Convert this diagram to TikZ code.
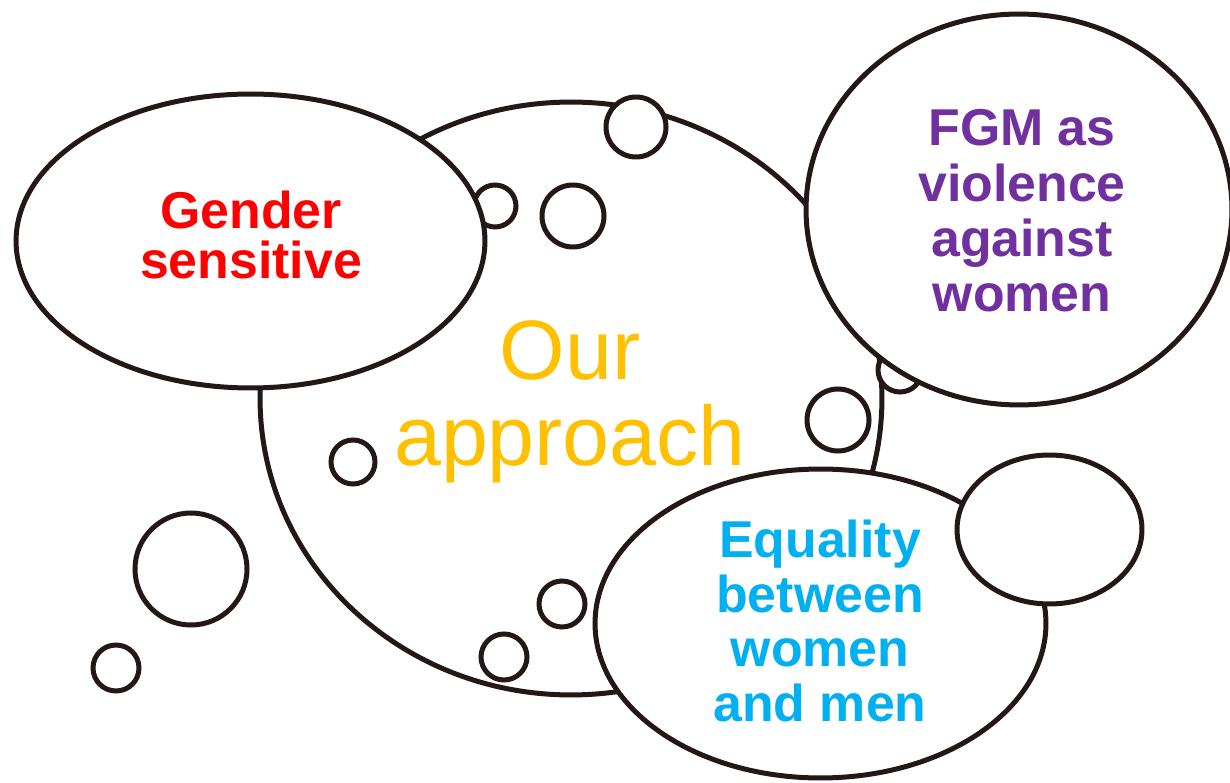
\documentclass[tikz,border=0pt]{standalone}
\usepackage[RGB]{xcolor}
\usepackage{fontspec}
\setmainfont{Liberation Sans}
\usetikzlibrary{shapes.geometric}
\definecolor{ink}{RGB}{35,24,21}
\definecolor{G}{RGB}{255,0,0}
\definecolor{O}{RGB}{255,192,0}
\definecolor{F}{RGB}{112,48,160}
\definecolor{E}{RGB}{0,176,240}
\tikzset{
  blob/.style={ellipse, draw=ink, fill=white, line width=0.1cm, inner sep=0pt},
  puff/.style={circle, draw=ink, fill=white, line width=0.1cm, inner sep=0pt},
  says/.style={align=center, inner sep=0pt, font=\bfseries\fontsize{29.5}{31}\selectfont}
}

\begin{document}
\begin{tikzpicture}[x=0.02cm, y=-0.02cm]
\useasboundingbox (0,0) rectangle (1230,783);
% the big bubble
\node[blob, minimum width=12.44cm, minimum height=11.86cm] (core) at (571,398.5) {};
% small bubbles, radius in px
\foreach \n/\x/\y/\r in {1/636/127/30, 2/495/206/21, 3/573/216/31, 4/353/462/22, 5/838/420/31,
    6/900/370/22, 7/562/604/23, 8/504/657/23, 9/191/569/56, 10/116/668/23}{
  \node[puff, minimum size=2*\r*0.02cm] (p\n) at (\x,\y) {};
}
% outer bubbles
\node[blob, minimum width=9.38cm, minimum height=5.88cm] (gender) at (250.5,241) {};
\node[blob, minimum width=8.52cm, minimum height=7.82cm] (fgm) at (1019,209.5) {};
\node[blob, minimum width=9.02cm, minimum height=6.18cm] (equal) at (820.5,623.5) {};
\node[blob, minimum width=3.7cm, minimum height=2.98cm] (tail) at (1049.5,529.5) {};
% texts
\node[says, font=\bfseries\fontsize{29.5}{28}\selectfont, text=G] (gendertxt) at (251,235) {Gender\\sensitive};
\node[align=center, inner sep=0pt, font=\fontsize{48}{49}\selectfont, text=O] (coretxt) at (570,402) {Our\\approach};
\node[says, font=\bfseries\fontsize{29.5}{31.5}\selectfont, text=F] (fgmtxt) at (1022,211) {FGM as\\violence\\against\\women};
\node[says, text=E] (equaltxt) at (820,621) {Equality\\between\\women\\and men};
\end{tikzpicture}
\end{document}
